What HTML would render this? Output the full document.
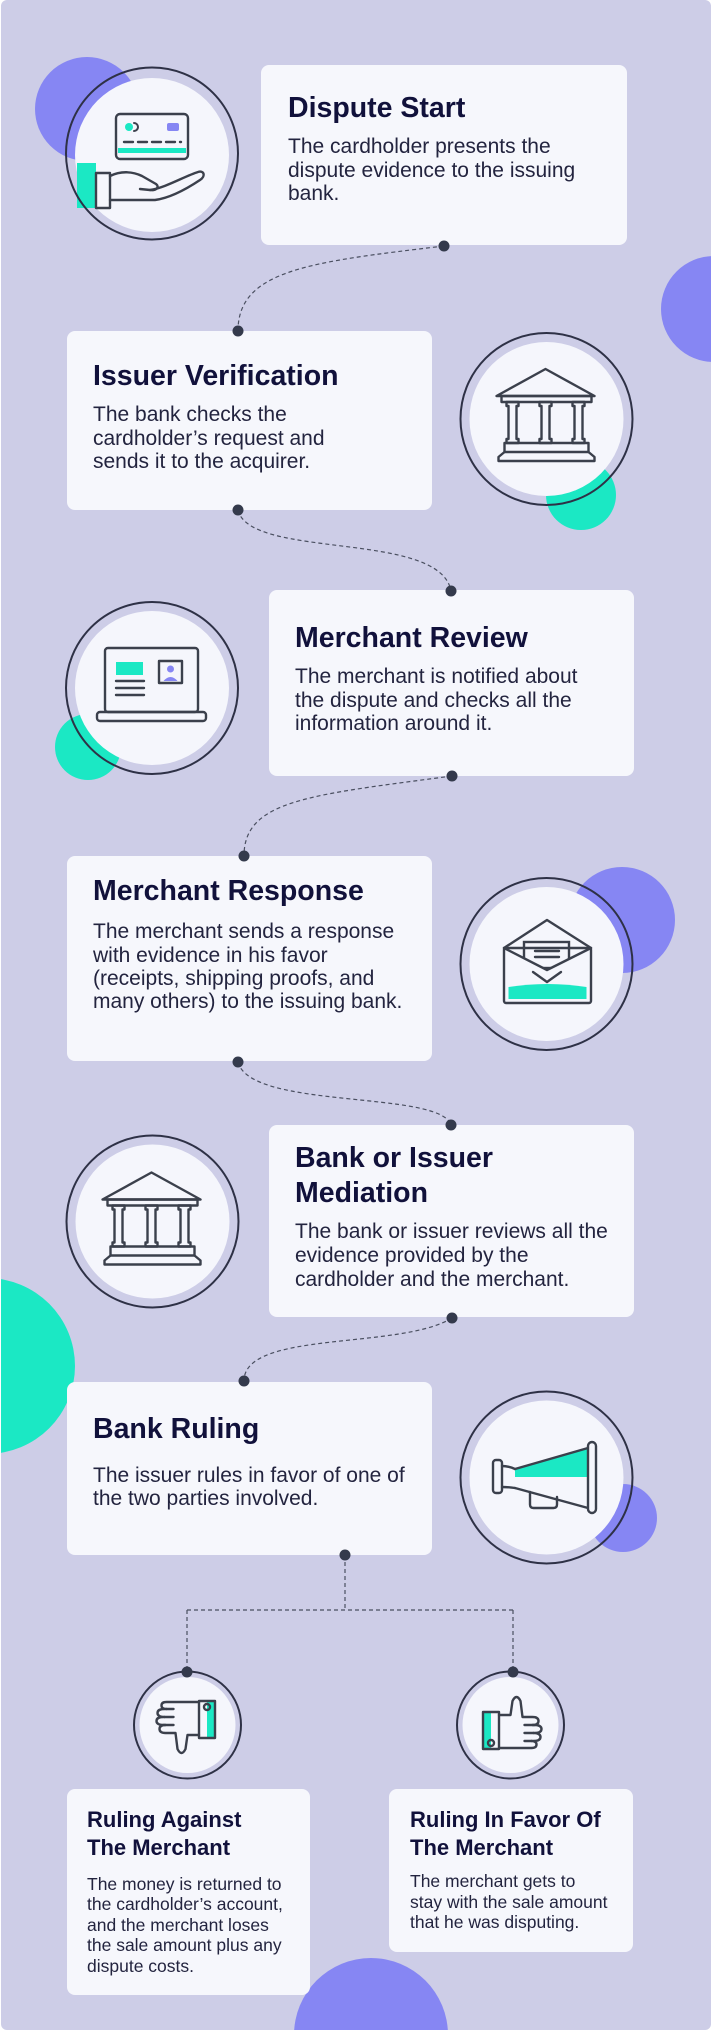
<!DOCTYPE html>
<html><head><meta charset="utf-8">
<style>
html,body{margin:0;padding:0;background:#fff;}
body{width:713px;height:2032px;overflow:hidden;}
svg{display:block;}
.t{font-family:"Liberation Sans",Arial,sans-serif;font-weight:700;fill:#11113b;font-size:28.5px;}
.b{font-family:"Liberation Sans",Arial,sans-serif;fill:#23243f;font-size:21px;}
.ts{font-family:"Liberation Sans",Arial,sans-serif;font-weight:700;fill:#11113b;font-size:22px;}
.bs{font-family:"Liberation Sans",Arial,sans-serif;fill:#23243f;font-size:17.5px;}
.ic{fill:none;stroke:#3b404c;stroke-width:2.4;stroke-linejoin:round;stroke-linecap:round;}
.dash{fill:none;stroke:#4a4f60;stroke-width:1.2;stroke-dasharray:4 3;}
</style></head>
<body>
<svg width="713" height="2032" viewBox="0 0 713 2032" xmlns="http://www.w3.org/2000/svg">
<defs>
<clipPath id="f"><rect x="1" y="0" width="710" height="2030" rx="6"/></clipPath>
</defs>
<rect width="713" height="2032" fill="#fff"/>
<g clip-path="url(#f)">
<rect x="0" y="0" width="713" height="2032" fill="#cdcde7"/>

<!-- blobs -->
<circle cx="87" cy="109" r="52" fill="#8686f3"/>
<circle cx="714" cy="309" r="53" fill="#8686f3"/>
<circle cx="581" cy="495" r="35" fill="#1be8c4"/>
<circle cx="88" cy="747" r="33" fill="#1be8c4"/>
<circle cx="622" cy="920" r="53" fill="#8686f3"/>
<circle cx="-13" cy="1366" r="88" fill="#1be8c4"/>
<circle cx="623" cy="1518" r="34" fill="#8686f3"/>
<circle cx="371" cy="2035" r="77" fill="#8686f3"/>

<!-- connectors -->
<path class="dash" d="M444,246 C310,262 238,270 238,331"/>
<path class="dash" d="M238,510 C250,560 440,530 451,591"/>
<path class="dash" d="M452,776 C310,795 244,800 244,856"/>
<path class="dash" d="M238,1062 C250,1110 440,1090 451,1125"/>
<path class="dash" d="M452,1318 C400,1350 244,1330 244,1381"/>
<path class="dash" d="M345,1555 L345,1610 M187,1610 L513,1610 M187,1610 L187,1672 M513,1610 L513,1672"/>

<!-- cards -->
<g fill="#f6f7fc">
<rect x="261" y="65" width="366" height="180" rx="8"/>
<rect x="67" y="331" width="365" height="179" rx="8"/>
<rect x="269" y="590" width="365" height="186" rx="8"/>
<rect x="67" y="856" width="365" height="205" rx="8"/>
<rect x="269" y="1125" width="365" height="192" rx="8"/>
<rect x="67" y="1382" width="365" height="173" rx="8"/>
<rect x="67" y="1789" width="243" height="206" rx="8"/>
<rect x="389" y="1789" width="244" height="163" rx="8"/>
</g>

<!-- dots -->
<g fill="#343a4c">
<circle cx="444" cy="246" r="5.5"/>
<circle cx="238" cy="331" r="5.5"/>
<circle cx="238" cy="510" r="5.5"/>
<circle cx="451" cy="591" r="5.5"/>
<circle cx="452" cy="776" r="5.5"/>
<circle cx="244" cy="856" r="5.5"/>
<circle cx="238" cy="1062" r="5.5"/>
<circle cx="451" cy="1125" r="5.5"/>
<circle cx="452" cy="1318" r="5.5"/>
<circle cx="244" cy="1381" r="5.5"/>
<circle cx="345" cy="1555" r="5.5"/>
</g>

<!-- texts -->
<text class="t" x="288" y="117">Dispute Start</text>
<text class="b" x="288" y="153">The cardholder presents the</text>
<text class="b" x="288" y="177">dispute evidence to the issuing</text>
<text class="b" x="288" y="200">bank.</text>

<text class="t" x="93" y="385">Issuer Verification</text>
<text class="b" x="93" y="421">The bank checks the</text>
<text class="b" x="93" y="445">cardholder’s request and</text>
<text class="b" x="93" y="468">sends it to the acquirer.</text>

<text class="t" x="295" y="647">Merchant Review</text>
<text class="b" x="295" y="683">The merchant is notified about</text>
<text class="b" x="295" y="707">the dispute and checks all the</text>
<text class="b" x="295" y="730">information around it.</text>

<text class="t" x="93" y="900">Merchant Response</text>
<text class="b" x="93" y="938">The merchant sends a response</text>
<text class="b" x="93" y="962">with evidence in his favor</text>
<text class="b" x="93" y="985">(receipts, shipping proofs, and</text>
<text class="b" x="93" y="1008">many others) to the issuing bank.</text>

<text class="t" x="295" y="1167">Bank or Issuer</text>
<text class="t" x="295" y="1202">Mediation</text>
<text class="b" x="295" y="1238">The bank or issuer reviews all the</text>
<text class="b" x="295" y="1262">evidence provided by the</text>
<text class="b" x="295" y="1286">cardholder and the merchant.</text>

<text class="t" x="93" y="1438">Bank Ruling</text>
<text class="b" x="93" y="1482">The issuer rules in favor of one of</text>
<text class="b" x="93" y="1505">the two parties involved.</text>

<text class="ts" x="87" y="1827">Ruling Against</text>
<text class="ts" x="87" y="1855">The Merchant</text>
<text class="bs" x="87" y="1890">The money is returned to</text>
<text class="bs" x="87" y="1910">the cardholder’s account,</text>
<text class="bs" x="87" y="1931">and the merchant loses</text>
<text class="bs" x="87" y="1951">the sale amount plus any</text>
<text class="bs" x="87" y="1972">dispute costs.</text>

<text class="ts" x="410" y="1827">Ruling In Favor Of</text>
<text class="ts" x="410" y="1855">The Merchant</text>
<text class="bs" x="410" y="1887">The merchant gets to</text>
<text class="bs" x="410" y="1908">stay with the sale amount</text>
<text class="bs" x="410" y="1928">that he was disputing.</text>

<!-- icon circles -->
<g fill="#f5f6fc">
<circle cx="152" cy="155" r="77"/>
<circle cx="546.5" cy="419" r="77"/>
<circle cx="152" cy="688" r="77"/>
<circle cx="546.5" cy="964" r="77"/>
<circle cx="152.5" cy="1221.5" r="77"/>
<circle cx="546.5" cy="1477.5" r="77"/>
<circle cx="187.5" cy="1725" r="48"/>
<circle cx="510.5" cy="1725" r="48"/>
</g>

<!-- icon 1: card in hand -->
<rect x="77" y="163" width="19" height="45" fill="#1be8c4"/>
<rect x="118" y="148" width="68" height="5" fill="#1be8c4"/>
<circle cx="129" cy="127" r="4" fill="#1be8c4"/>
<rect x="167" y="123" width="12" height="8" rx="2" fill="#8686f3"/>
<g class="ic">
<rect x="116" y="114" width="72" height="45" rx="4"/>
<path d="M134,123 A4,4 0 0 1 134,131" stroke-width="2"/>
<path d="M124,142 H181" stroke-dasharray="9 5"/>
<rect x="96" y="173" width="14" height="35"/>
<path d="M110,176 C120,171 132,171 142,176 L156,184 C160,187 156,191 150,190 L140,189"/>
<path d="M150,190 C165,188 185,176 198,172 C204,170 206,176 200,180 C185,190 170,198 155,200 L110,200"/>
</g>

<!-- icon 2: bank -->
<g class="ic" transform="translate(546.5,419)">
<path d="M-50,-23 L-1,-50 L48,-23 Z"/>
<rect x="-45" y="-23" width="90" height="6"/>
<path d="M-40,-17 h12 v4 h-2 v33 h2 v4 h-12 v-4 h2 v-33 h-2 z"/>
<path d="M-7,-17 h12 v4 h-2 v33 h2 v4 h-12 v-4 h2 v-33 h-2 z"/>
<path d="M26,-17 h12 v4 h-2 v33 h2 v4 h-12 v-4 h2 v-33 h-2 z"/>
<rect x="-42" y="24" width="84" height="9"/>
<path d="M-42,33 L-48,38 L-48,42 L48,42 L48,38 L42,33"/>
</g>

<!-- icon 3: laptop -->
<g transform="translate(152,688)">
<rect x="-36" y="-26" width="27" height="13" fill="#1be8c4"/>
<circle cx="18.5" cy="-19" r="3.5" fill="#8686f3"/>
<path d="M11.5,-7 Q18.5,-15 25.5,-7 Z" fill="#8686f3"/>
<g class="ic">
<rect x="-47" y="-40" width="93" height="64" rx="3"/>
<rect x="-55" y="24" width="109" height="9" rx="3"/>
<path d="M-36,-7 H-8 M-36,0 H-8 M-36,7 H-8"/>
<rect x="7" y="-27" width="23" height="22"/>
</g>
</g>

<!-- icon 4: envelope -->
<g transform="translate(546.5,964)">
<g class="ic"><path d="M-42.5,-16 L0.5,-44 L44.5,-16"/></g>
<rect x="-22.5" y="-22" width="45" height="26" fill="#f5f6fc" stroke="#3b404c" stroke-width="2.4"/>
<path d="M-42.5,-16 L0.5,6 L44.5,-16 L44.5,39 L-42.5,39 Z" fill="#f5f6fc"/>
<path d="M-38,23 Q1,17 40,23 L40,35 L-38,35 Z" fill="#1be8c4"/>
<g class="ic">
<rect x="-42.5" y="-16" width="87" height="55" rx="2"/>
<path d="M-42.5,-16 L0.5,6 L44.5,-16"/>
<path d="M-11.5,-13 H12.5 M-11.5,-7 H12.5"/>
<path d="M-13.5,8 L0.5,18 L14.5,8"/>
</g>
</g>

<!-- icon 5: bank -->
<g class="ic" transform="translate(152.5,1221.5)">
<path d="M-50,-22 L-1,-49 L48,-22 Z"/>
<rect x="-45" y="-22" width="90" height="6"/>
<path d="M-40,-16 h12 v4 h-2 v33 h2 v4 h-12 v-4 h2 v-33 h-2 z"/>
<path d="M-7,-16 h12 v4 h-2 v33 h2 v4 h-12 v-4 h2 v-33 h-2 z"/>
<path d="M26,-16 h12 v4 h-2 v33 h2 v4 h-12 v-4 h2 v-33 h-2 z"/>
<rect x="-42" y="25" width="84" height="9"/>
<path d="M-42,34 L-48,39 L-48,43 L48,43 L48,39 L42,34"/>
</g>

<!-- icon 6: megaphone -->
<g transform="translate(546.5,1477.5)">
<path d="M-31.5,-8.5 L41.5,-29.5 L41.5,-0.5 L-31.5,-0.5 Z" fill="#1be8c4"/>
<g class="ic">
<path d="M-16.5,14.5 V27 Q-16.5,30.5 -13,30.5 H7 Q10.5,30.5 10.5,27 V19.5"/>
<path d="M-31.5,-8.5 L41.5,-29.5 M-31.5,10.5 L41.5,30.5"/>
<path d="M-44.5,-11.5 Q-38,-11.5 -31.5,-8.5 M-44.5,9.5 Q-38,9.5 -31.5,10.5"/>
<rect x="-53.5" y="-17.5" width="9" height="33" rx="3"/>
<rect x="41.5" y="-35.5" width="8" height="71" rx="4" fill="#f5f6fc"/>
</g>
</g>

<!-- thumbs -->
<g transform="translate(187.5,1725)">
<rect x="19.5" y="-24" width="8" height="37" fill="#1be8c4"/>
<g class="ic" stroke-width="2">
<rect x="11.5" y="-24" width="16" height="37"/>
<circle cx="19.5" cy="-18" r="3"/>
<path d="M11.5,-23 L-21,-23 Q-26,-23 -26,-19.5 Q-26,-16 -21,-16 L-23,-16 Q-30,-16 -30,-12 Q-30,-8 -23,-8 L-24,-8 Q-31,-8 -31,-4 Q-31,0 -24,0 L-22,0 Q-28,0 -28,4 Q-28,8 -22,8 L-12,8 L-10,24 Q-6,32 -2,24 L0,10 L11.5,10"/>
<path d="M-21,-16 H-14 M-23,-8 H-14 M-24,0 H-14"/>
</g>
</g>
<g transform="translate(510.5,1725) rotate(180)">
<rect x="19.5" y="-24" width="8" height="37" fill="#1be8c4"/>
<g class="ic" stroke-width="2">
<rect x="11.5" y="-24" width="16" height="37"/>
<circle cx="19.5" cy="-18" r="3"/>
<path d="M11.5,-23 L-21,-23 Q-26,-23 -26,-19.5 Q-26,-16 -21,-16 L-23,-16 Q-30,-16 -30,-12 Q-30,-8 -23,-8 L-24,-8 Q-31,-8 -31,-4 Q-31,0 -24,0 L-22,0 Q-28,0 -28,4 Q-28,8 -22,8 L-12,8 L-10,24 Q-6,32 -2,24 L0,10 L11.5,10"/>
<path d="M-21,-16 H-14 M-23,-8 H-14 M-24,0 H-14"/>
</g>
</g>

<!-- rings -->
<g fill="none" stroke="#2e3146" stroke-width="2">
<circle cx="152" cy="153.5" r="86"/>
<circle cx="546.5" cy="419" r="86"/>
<circle cx="152" cy="688" r="86"/>
<circle cx="546.5" cy="964" r="86"/>
<circle cx="152.5" cy="1221.5" r="86"/>
<circle cx="546.5" cy="1477.5" r="86"/>
<circle cx="187.5" cy="1725" r="53.5"/>
<circle cx="510.5" cy="1725" r="53.5"/>
</g>
<g fill="#343a4c">
<circle cx="187" cy="1672" r="5.5"/>
<circle cx="513" cy="1672" r="5.5"/>
</g>
</g>
</svg>
</body></html>
